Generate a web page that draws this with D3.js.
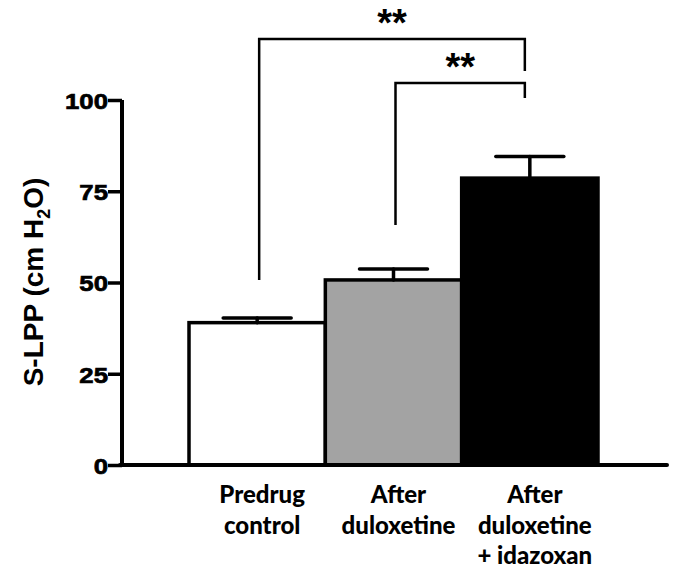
<!DOCTYPE html>
<html><head><meta charset="utf-8">
<script src="https://cdn.jsdelivr.net/npm/d3@7"></script>
<style>body{margin:0;background:#fff}svg{display:block}</style>
</head><body>
<svg id="c" width="685" height="576"></svg>
<script>
const categories = [["Predrug","control"],["After","duloxetine"],["After","duloxetine","+ idazoxan"]];
const means = [39.0, 50.7, 78.6];
const errors = [1.3, 3.0, 5.9];
const fills = ["#ffffff", "#a3a3a3", "#000000"];
const yTicks = [0, 25, 50, 75, 100];
const comparisons = [ {from:0, to:2, level:39, leftEnd:280, rightEnd:71, label:"**"},
                      {from:1, to:2, level:83, leftEnd:225, rightEnd:98, label:"**"} ];

const svg = d3.select("#c");
const y = d3.scaleLinear().domain([0,100]).range([465,100]);
const x = d3.scaleBand().domain(d3.range(categories.length)).range([189,598]).padding(0);

// bars
svg.selectAll("rect.bar").data(means).join("rect")
  .attr("x", (d,i)=>x(i)).attr("width", x.bandwidth())
  .attr("y", d=>y(d)).attr("height", d=>y(0)-y(d))
  .attr("fill", (d,i)=>fills[i]).attr("stroke","#000").attr("stroke-width",3.5);

// error bars
const eb = svg.append("g").attr("stroke","#000").attr("stroke-width",3.5).attr("stroke-linecap","round");
means.forEach((m,i)=>{
  const cx = x(i)+x.bandwidth()/2;
  eb.append("line").attr("x1",cx).attr("x2",cx).attr("y1",y(m)).attr("y2",y(m+errors[i]));
  eb.append("line").attr("x1",cx-34).attr("x2",cx+34).attr("y1",y(m+errors[i])).attr("y2",y(m+errors[i]));
});

// axes
const yAxis = svg.append("g").attr("transform","translate(122,0)")
  .call(d3.axisLeft(y).tickValues(yTicks).tickSize(14).tickPadding(2));
yAxis.select(".domain").attr("stroke-width",4).attr("d","M0,"+(y(0)+1.5)+"V"+y(100));
yAxis.selectAll(".tick line").attr("stroke-width",3.5);
yAxis.selectAll(".tick text").attr("x",0).attr("dy","0.36em")
  .attr("transform","translate(-14,0) scale(1.12,1)")
  .style("font-family","'Liberation Sans', Arial, sans-serif").style("font-weight","bold").style("font-size","23px").attr("fill","#000")
  .attr("stroke","#000").attr("stroke-width",0.7);
svg.append("line").attr("x1",120).attr("x2",667).attr("y1",y(0)).attr("y2",y(0))
  .attr("stroke","#000").attr("stroke-width",4).attr("stroke-linecap","round");

// y label
const yl = svg.append("text").attr("transform","translate(43,282) rotate(-90)")
  .attr("text-anchor","middle")
  .style("font-family","'Liberation Sans', Arial, sans-serif").style("font-weight","bold").style("font-size","28px");
yl.append("tspan").text("S-LPP (cm H");
yl.append("tspan").text("2").attr("font-size","18px").attr("dy","7");
yl.append("tspan").text("O)").attr("dy","-7");

// category labels
categories.forEach((lines,i)=>{
  const cx = x(i)+x.bandwidth()/2 + 5;
  const t = svg.append("text").attr("text-anchor","middle")
    .style("font-family","Lato, 'Open Sans', sans-serif").style("font-weight","900").style("font-size","24px");
  lines.forEach((l,j)=>t.append("tspan").attr("x",cx).attr("y",503+j*30.5).text(l));
});

// significance brackets
const br = svg.append("g").attr("fill","none").attr("stroke","#000").attr("stroke-width",2.5);
comparisons.forEach(c=>{
  const x1 = x(c.from)+x.bandwidth()/2+2, x2 = x(c.to)+x.bandwidth()/2-5;
  br.append("path").attr("d",`M${x1},${c.leftEnd}V${c.level}H${x2}V${c.rightEnd}`);
  svg.append("text").attr("x",(x1+x2)/2).attr("y",c.level-3).attr("text-anchor","middle")
    .style("font-family","'Liberation Sans', Arial, sans-serif").style("font-weight","bold").style("font-size","38px")
    .text(c.label);
});
</script>
</body></html>
